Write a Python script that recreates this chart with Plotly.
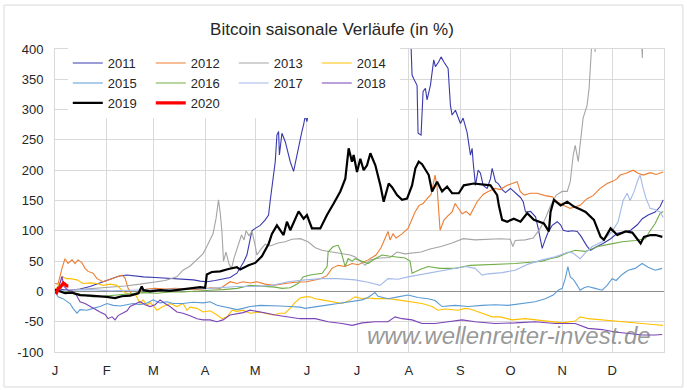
import plotly.graph_objects as go

# ---------------- data (day of year, % change since 1 Jan) ----------------
MONTH_LABELS = ["J", "F", "M", "A", "M", "J", "J", "A", "S", "O", "N", "D"]
MONTH_START_DAYS = [0, 31, 59, 90, 120, 151, 181, 212, 243, 273, 304, 334]
Y_TICKS = [-100, -50, 0, 50, 100, 150, 200, 250, 300, 350, 400]

d2011 = [0, 4, 9, 15, 21, 27, 33, 38, 43, 48, 53, 60, 66, 75, 83, 87, 91, 96, 100, 105,
         109, 111, 113, 115, 117, 118, 120, 123, 126, 128, 129, 130, 132, 133, 134, 134.5, 136, 138, 139, 141,
         143, 145, 146, 148, 149, 150, 151, 152, 152.5, 153.5, 159, 171, 183, 195, 207, 212, 213.4, 214, 215, 217,
         217.6, 219.4, 220.6, 222, 223, 225, 227, 228, 230, 231.4, 233, 235, 235.6, 237, 238, 240, 241.6, 243, 244.6, 246,
         247, 249, 250, 250.6, 252, 253.6, 255, 256.6, 259, 261, 262, 264, 265.6, 268, 270, 273, 277, 279, 280.6, 282,
         285, 288, 289.6, 291, 292, 294, 295.6, 298, 301, 303, 304.6, 307.6, 310, 313, 315, 319, 321, 324, 328.5, 333,
         337, 340.5, 345, 349, 352, 355.5, 359.7, 362.7, 364.5]
v2011 = [0, 3, 2, 4, 8, 14, 21, 25, 27, 25, 24, 23, 22, 21, 19, 17, 16, 18, 20, 23,
         30, 38, 48, 60, 85, 100, 104, 109, 118, 126, 150, 172, 214, 258, 264, 225, 261, 247, 236, 214,
         198, 225, 241, 264, 275, 290, 280, 300, 321, 500, 700, 900, 800, 700, 550, 450, 404, 357, 351, 340,
         261, 258, 330, 335, 316, 340, 382, 371, 379, 387, 379, 371, 368, 307, 291, 299, 288, 277, 286, 269,
         262, 225, 236, 214, 175, 200, 195, 175, 170, 186, 203, 181, 178, 168, 163, 170, 159, 155, 148, 131,
         132, 123, 104, 82, 71, 87, 98, 109, 115, 110, 101, 99, 100, 99, 92, 74, 68, 73, 79, 87,
         96, 98, 101, 110, 120, 126, 131, 140, 151]

d2012 = [0, 1.8, 4.2, 6, 7.8, 10.2, 12, 13.8, 16.2, 18, 19.8, 22.8, 25.2, 27, 28.8, 31.2, 34.2, 37.2, 40.2, 42,
         43.8, 46.2, 48, 49.8, 52.2, 55.2, 60, 66, 72, 78, 84, 88.7, 93, 99, 105, 109, 112.7, 117, 121, 126,
         130.7, 138, 144, 151, 159, 163, 166, 169.7, 173.9, 178, 181.7, 187.6, 192.4, 195.4, 197.8, 199.6, 200.8, 202.6, 204.4, 208,
         211.6, 214, 215.8, 218.2, 220.6, 223, 225.4, 227.8, 229, 230.8, 233.2, 235.6, 238, 239.8, 241.6, 244, 246.4, 248.8, 253, 256.6,
         259.6, 263.8, 266.8, 271, 274, 277, 278.8, 281.2, 284.8, 289, 293.8, 298, 301, 304.6, 308.8, 311.8, 314.7, 318.9, 322.5, 326.7,
         330.9, 334.5, 336.9, 338.7, 342.3, 346.5, 349.5, 352.5, 356.7, 360.3, 364.5]
v2012 = [13, 12, 38, 54, 46, 52, 46, 52, 47, 38, 33, 30, 21, 19, 16, 18, 21, 24, 27, 22,
         5, -6, -4, -2, 2, 4, 5, 4, 5, 4, 3, 4, 6, 5, 16, 13, 16, 14, 16, 12,
         10, 13, 15, 16, 21, 26, 38, 43, 41, 46, 44, 52, 60, 72, 88, 99, 85, 95, 88, 95,
         104, 118, 131, 142, 145, 153, 160, 192, 172, 101, 118, 125, 131, 145, 138, 128, 132, 126, 148, 160,
         165, 170, 168, 175, 178, 181, 165, 159, 162, 162, 158, 156, 148, 142, 137, 140, 142, 153, 158, 170,
         178, 182, 186, 192, 195, 200, 195, 192, 196, 193, 197]

d2013 = [0, 9, 21, 31, 42, 51, 57, 66, 73, 76.7, 81, 85, 88.7, 91, 94.7, 96.5, 98, 99, 100, 101,
         102.5, 104.3, 105.8, 107.3, 109.7, 111.8, 113.3, 114.5, 116.3, 118.1, 120, 121, 123, 126, 129, 133.7, 138, 142, 147, 151.7,
         156, 160, 166, 172, 176.9, 179.9, 182.9, 185.9, 188.8, 194.8, 200.8, 205, 209.8, 215.8, 219.4, 224.8, 231.4, 238, 244.6, 251.8,
         260.8, 266.8, 272.8, 274.4, 275.8, 281.8, 286.6, 290.8, 293.8, 296.8, 300.4, 304, 307, 308.8, 310.6, 311.8, 313.6, 314.7, 316.5, 318.9,
         320.1, 321.3, 322, 323, 323.7, 324.3, 329.7, 338.7, 347.7, 351.3, 352, 352.5, 356.7, 364.5]
v2013 = [0, 2, 4, 6, 9, 12, 14, 18, 24, 35, 42, 52, 62, 74, 95, 120, 151, 130, 100, 50,
         65, 45, 38, 55, 75, 93, 85, 100, 92, 99, 75, 60, 68, 78, 75, 80, 82, 86, 87, 82,
         72, 68, 65, 62, 60, 57, 50, 43, 52, 55, 56, 65, 62, 64, 65, 70, 74, 80, 87, 85,
         86, 87, 86, 74, 84, 85, 88, 104, 120, 140, 159, 165, 165, 181, 225, 241, 214, 241, 286, 307,
         335, 390, 430, 470, 395, 460, 600, 800, 900, 430, 385, 450, 750, 650]

d2014 = [0, 3, 4.8, 6.6, 9, 13.2, 16.8, 21, 25.2, 28.8, 33, 37.2, 40.8, 45, 48, 51, 52.8, 55.2, 57, 61.2,
         64.7, 69, 73.1, 76.7, 79.1, 81, 85.1, 88.7, 93, 97.1, 100.1, 103.1, 106.1, 109.1, 112.7, 116.9, 122.9, 127.1, 130.7, 134.9,
         137.9, 140.9, 143.9, 146.9, 149.9, 152.9, 155.9, 160.1, 166.1, 172.1, 175.7, 179.9, 184.1, 187.6, 191.8, 199.6, 205.6, 212.8, 220, 226,
         229.6, 233.8, 236.8, 241.6, 245.8, 248.8, 256, 262, 266.8, 274, 281.8, 287.8, 295.6, 304, 311.8, 314.7, 319.5, 327.9, 335.7, 343.5,
         351.9, 359.7, 364.5]
v2014 = [0, 16, 24, 21, 21, 19, 13, 14, 13, 10, 12, 10, 0, -6, -4, -20, -14, -23, -18, -31,
         -25, -20, -25, -20, -31, -26, -28, -34, -32, -39, -45, -42, -31, -33, -31, -36, -34, -37, -39, -36,
         -36, -28, -18, -11, -9, -9, -12, -14, -17, -20, -16, -9, -12, -11, -12, -12, -14, -17, -20, -25,
         -31, -29, -30, -31, -28, -29, -36, -42, -42, -47, -45, -47, -50, -52, -49, -42, -45, -47, -48, -50,
         -53, -55, -56]

d2015 = [0, 1.8, 4.8, 9, 10.8, 13.2, 15, 19.2, 22.8, 27, 31.2, 34.8, 39, 43.2, 46.8, 51, 55.2, 58.8, 63, 67.1,
         70.7, 76.7, 82.7, 88.7, 92.9, 97.1, 100.7, 104.9, 109.1, 112.7, 116.9, 122.9, 128.9, 134.9, 140.9, 146.9, 149.9, 155.9, 161.9, 169.7,
         176.9, 184.1, 187.6, 190, 191.8, 193.6, 199.6, 205.6, 211.6, 217.6, 223.6, 227.8, 232, 239.8, 247.6, 256, 263.8, 271.6, 280, 287.8,
         293.8, 298.6, 301.6, 304, 305.8, 307.4, 308.8, 310.6, 313, 314.7, 317.1, 319.5, 323.7, 327.9, 330.9, 333.9, 336.3, 339.9, 343.5, 347.7,
         351.9, 355.5, 359.7, 363.9]
v2015 = [0, -9, -12, -20, -28, -36, -30, -31, -28, -25, -20, -23, -24, -22, -20, -22, -19, -14, -19, -17,
         -20, -20, -18, -19, -17, -23, -25, -28, -30, -28, -25, -23, -23, -24, -25, -26, -28, -26, -23, -20,
         -17, -14, -10, -6, -2, -8, -12, -9, -6, -10, -12, -15, -25, -23, -25, -23, -22, -23, -20, -17,
         -12, -6, 2, 5, 21, 41, 24, 20, 10, 2, 6, 8, 5, 2, 10, 21, 18, 28, 35, 38,
         46, 40, 35, 38]

d2016 = [0, 6, 12, 16.8, 22.8, 28.8, 37.2, 45, 52.8, 61.2, 69, 76.7, 85.1, 92.9, 100.7, 109.1, 116.9, 124.1, 131.9, 136.1,
         140.9, 145.7, 148.7, 152.9, 160.1, 163.1, 163.7, 166.7, 169.7, 171.5, 173.9, 175.7, 178.1, 179.9, 184.1, 187.6, 191.8, 196, 200.8, 205.6,
         209.8, 212.8, 214, 218.8, 223.6, 230.8, 239.8, 248.8, 257.8, 266.8, 275.8, 284.8, 292, 296.8, 301.6, 305.8, 311.8, 317.7, 325.5, 332.7,
         339.9, 347.7, 353.7, 356.7, 359.7, 362.7, 364.5]
v2016 = [0, 1, -3, -6, -9, -8, -6, -4, -2, -3, -1, -1, 1, 2, 3, 5, 10, 9, 7, 5,
         6, 13, 24, 27, 30, 41, 65, 74, 76, 65, 41, 54, 50, 54, 50, 46, 54, 60, 58, 57,
         55, 50, 30, 36, 41, 38, 38, 43, 44, 44, 46, 48, 50, 54, 57, 62, 68, 66, 74, 78,
         82, 84, 87, 100, 112, 129, 132]

d2017 = [0, 9, 21, 33, 45, 57, 69, 81, 92.9, 109.1, 119.9, 130.1, 139.7, 149.9, 160.1, 169.7, 179.9, 187.6, 194.8, 199.6,
         205.6, 211.6, 217.6, 223.6, 232, 239.8, 245.8, 251.8, 256, 259.6, 268, 275.8, 283.6, 292, 299.8, 307.6, 310.6, 314.7, 317.7, 322,
         327.9, 333.9, 337.5, 340.5, 342.9, 344.7, 347.1, 349.5, 350.7, 352.5, 354.3, 356.7, 359.7, 362.7, 364.5]
v2017 = [0, 2, 3, 1, 2, 3, 3, 4, 5, 8, 8, 10, 16, 19, 21, 21, 19, 15, 10, 21,
         20, 24, 27, 30, 33, 38, 41, 38, 27, 29, 31, 35, 45, 52, 57, 65, 63, 54, 63, 74,
         82, 99, 115, 150, 162, 150, 165, 185, 192, 170, 153, 137, 135, 131, 122]

d2018 = [0, 1.8, 4.2, 5.4, 7.8, 10.8, 13.2, 15, 18, 21, 24, 27, 30, 31.8, 34.2, 36, 37.8, 40.2, 43.2, 45,
         48.6, 51, 54, 57, 60, 63, 65.9, 68.9, 73.1, 76.7, 80.9, 85.1, 88.7, 92.9, 97.1, 100.7, 104.9, 109.1, 112.7, 116.9,
         121.7, 127.1, 131.9, 139.7, 146.9, 155.9, 163.7, 172.1, 178.1, 184.1, 191.8, 199.6, 203.8, 208, 214, 220, 227.8, 235.6, 244, 251.8,
         263.8, 275.8, 287.8, 299.8, 311.8, 319.5, 327.9, 335.7, 343.5, 351.9, 359.7, 363.9]
v2018 = [0, 2, 25, 8, 2, 0, -8, -17, -20, -25, -30, -34, -38, -45, -42, -47, -40, -36, -32, -25,
         -20, -17, -22, -25, -22, -14, -20, -25, -34, -36, -40, -45, -47, -47, -50, -47, -39, -37, -35, -31,
         -33, -36, -39, -42, -45, -45, -50, -53, -56, -52, -50, -50, -42, -45, -47, -53, -53, -50, -47, -50,
         -53, -52, -50, -53, -53, -61, -63, -67, -69, -72, -72, -71]

d2019 = [0, 3, 6, 10, 15, 21, 27, 31, 36, 40, 45, 50, 52, 53, 57, 63, 69, 75, 81, 87,
         90, 91, 94, 99, 104, 109, 111, 116, 120, 124, 128, 130, 133, 137, 139, 141, 146, 149, 151, 154,
         159, 163, 167, 171, 174, 176, 178, 179, 181, 183, 185, 187, 189, 192, 195, 197, 200, 202, 205, 208,
         211, 214, 216, 218, 220, 222, 224, 226, 229, 232, 235, 238, 242, 245, 251, 261, 265, 266, 268, 271,
         275, 279, 283, 287, 290, 293, 296, 297, 299, 303, 307, 311, 315, 318, 323, 327, 329, 333, 337, 342,
         346, 349, 351, 353, 357, 360, 364]
v2019 = [3, 0, -3, -2, -6, -7, -8, -9, -11, -8, -7, -3, 8, 2, 0, 2, 1, 3, 5, 7,
         6, 28, 32, 33, 37, 40, 36, 43, 47, 58, 78, 95, 109, 93, 115, 101, 132, 120, 126, 104,
         104, 126, 145, 165, 186, 236, 214, 225, 197, 219, 200, 208, 228, 208, 175, 148, 178, 172, 159, 151,
         153, 175, 203, 214, 210, 200, 192, 165, 181, 165, 173, 162, 162, 175, 178, 175, 159, 142, 118, 115,
         120, 115, 129, 118, 115, 112, 99, 131, 151, 142, 148, 140, 135, 131, 118, 90, 85, 104, 93, 99,
         97, 87, 79, 90, 93, 93, 90]

d2020 = [0, 1, 2, 3, 4, 5, 6, 7, 8]
v2020 = [0, -2, 5, 6, 10, 14, 12, 9, 9]

# ---------------- styling ----------------
series = [
    ("2011", d2011, v2011, "#3A3AAE", 1.1, "c1"),
    ("2012", d2012, v2012, "#ED7D31", 1.1, "c2"),
    ("2013", d2013, v2013, "#A5A5A5", 1.1, "c3"),
    ("2014", d2014, v2014, "#FFC000", 1.1, "c4"),
    ("2015", d2015, v2015, "#5B9BD5", 1.1, "c1"),
    ("2016", d2016, v2016, "#70AD47", 1.1, "c2"),
    ("2017", d2017, v2017, "#A3B9E9", 1.1, "c3"),
    ("2018", d2018, v2018, "#7B43B8", 1.1, "c4"),
    ("2019", d2019, v2019, "#000000", 2.2, "c1"),
    ("2020", d2020, v2020, "#FF0000", 3.2, "c2"),
]

FONT = "Liberation Sans, Arial, sans-serif"
fig = go.Figure()
for name, xs, ys, color, width, grp in series:
    fig.add_trace(go.Scatter(x=xs, y=ys, mode="lines", name=name, legendgroup=grp,
                             line=dict(color=color, width=width), hoverinfo="skip"))

fig.update_layout(
    width=687, height=390,
    margin=dict(l=55, r=23, t=49, b=38),
    paper_bgcolor="white", plot_bgcolor="white",
    font=dict(family=FONT, size=13, color="#262626"),
    title=dict(text="Bitcoin saisonale Verläufe (in %)", x=332 / 687, xanchor="center",
               y=1 - 29 / 390, yanchor="middle", font=dict(size=17, color="#262626")),
    legend=dict(orientation="h", traceorder="grouped", x=0.021, xanchor="left",
                y=1.003, yanchor="top", bgcolor="white", font=dict(size=13, color="#262626"),
                entrywidth=38, entrywidthmode="pixels", tracegroupgap=0),
    xaxis=dict(range=[0, 365], tickvals=MONTH_START_DAYS, ticktext=MONTH_LABELS,
               showgrid=True, gridcolor="#D9D9D9", gridwidth=1, zeroline=False,
               showline=True, linecolor="#D9D9D9", mirror=True, ticks="",
               ticklabelstandoff=6, tickfont=dict(size=13, color="#262626")),
    yaxis=dict(range=[-100, 400], tickvals=Y_TICKS, ticktext=[str(v) for v in Y_TICKS],
               showgrid=True, gridcolor="#D9D9D9", gridwidth=1,
               zeroline=True, zerolinecolor="#8C8C8C", zerolinewidth=1,
               showline=True, linecolor="#D9D9D9", mirror=True, ticks="",
               ticklabelstandoff=8, tickfont=dict(size=13, color="#262626")),
    annotations=[dict(text="<i>www.wellenreiter-invest.de</i>", xref="paper", yref="paper",
                      x=0.7455, y=0.056, xanchor="center", yanchor="middle", showarrow=False,
                      font=dict(family=FONT, size=24, color="rgba(125,125,125,0.8)"))],
    shapes=[dict(type="rect", xref="paper", yref="paper", x0=-0.0837, x1=1.031,
                 y0=-0.1155, y1=1.145, line=dict(color="#D9D9D9", width=1), layer="below")],
)

fig.write_html("out.html", config={"displayModeBar": False},
               post_script="document.body.style.margin='0';")
